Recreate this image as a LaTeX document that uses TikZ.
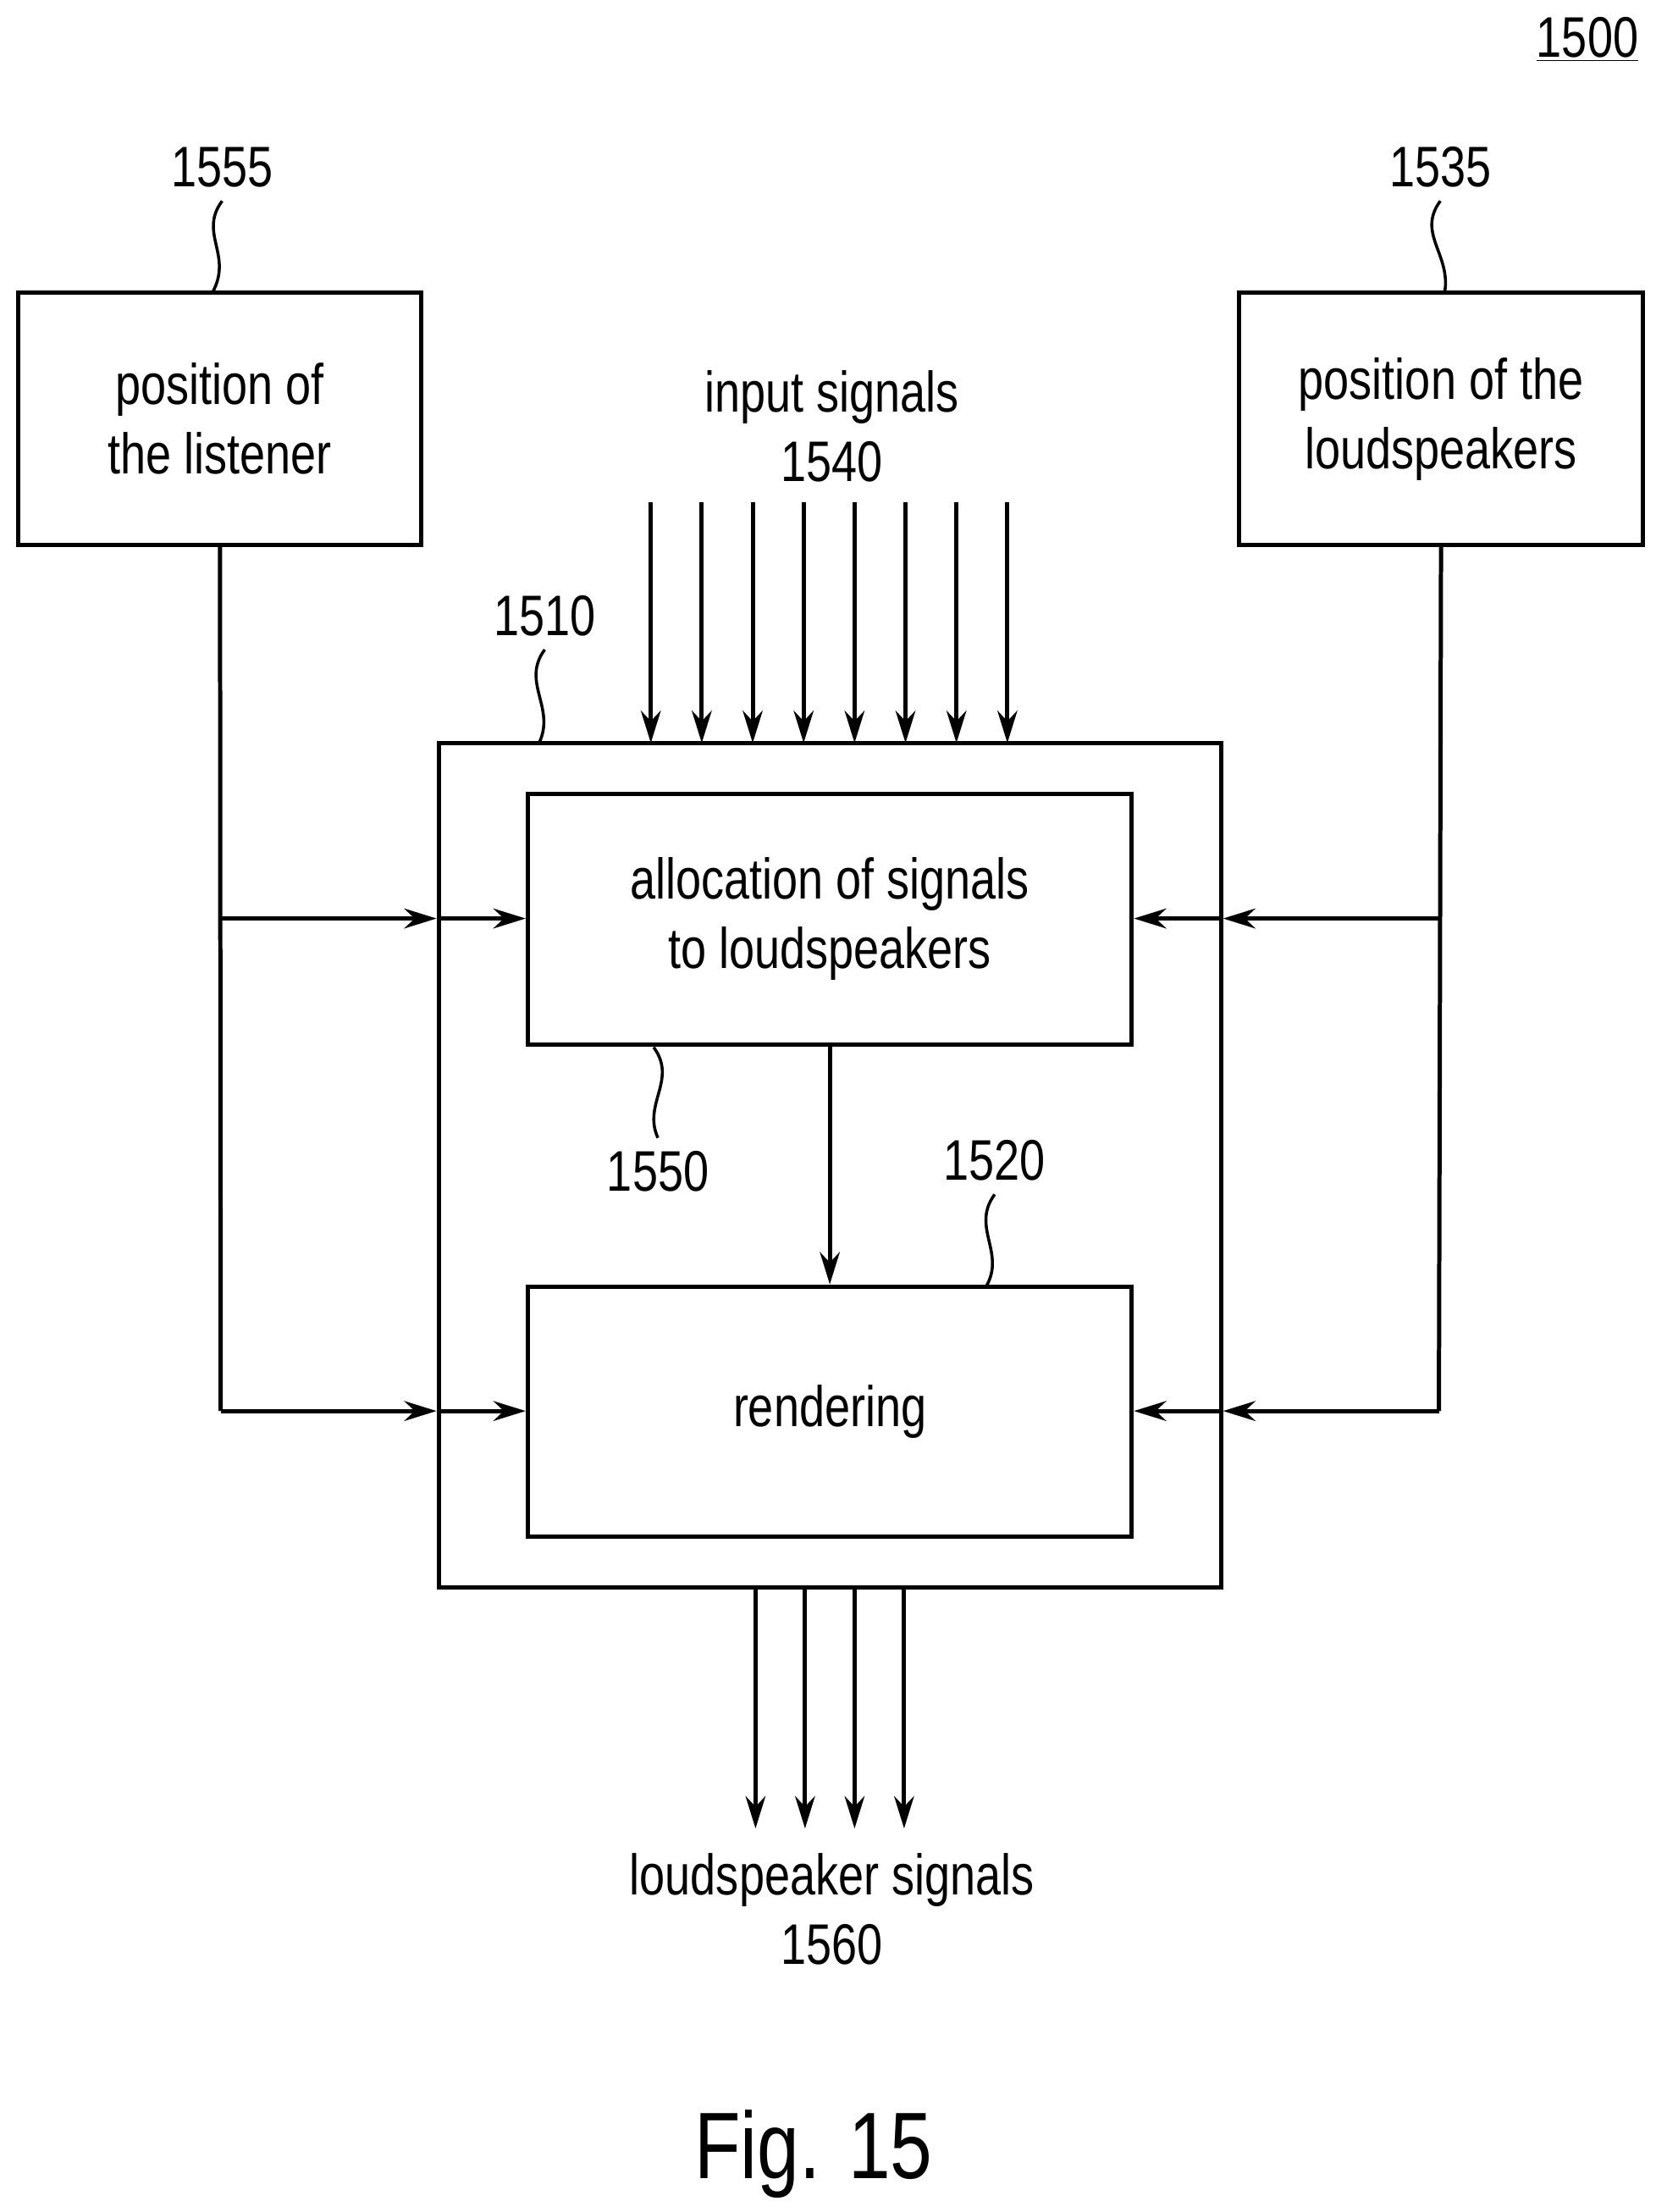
\documentclass[tikz,border=0pt]{standalone}
\usepackage{fontspec}
\setmainfont{Liberation Sans}[FakeStretch=0.8]
\usetikzlibrary{positioning,arrows.meta,calc}
\tikzset{
  blk/.style={draw, line width=1.7pt, align=center, inner sep=0pt},
  sig/.style={-{Stealth[length=13pt,width=8pt]}, line width=1.7pt},
  wire/.style={line width=1.7pt},
  lbl/.style={font=\fontsize{23}{28}\selectfont, align=center},
  squig/.style={line width=1.2pt}
}
\begin{document}
\begin{tikzpicture}[x=0.02cm, y=-0.02cm, font=\fontsize{23}{28}\selectfont]
  \useasboundingbox (0,0) rectangle (1170,1563);

  % blocs
  \node[blk, minimum width=5.7cm, minimum height=3.56cm] (listener) at (155.5,296) {position of\\the listener};
  \node[blk, minimum width=5.7cm, minimum height=3.56cm] (spkpos) at (1018.5,296) {position of the\\loudspeakers};
  \node[blk, minimum width=11.06cm, minimum height=11.94cm] (proc) at (586.5,823.5) {};
  \node[blk, minimum width=8.54cm, minimum height=3.54cm] (alloc) at (586.5,649.5) {allocation of signals\\to loudspeakers};
  \node[blk, minimum width=8.54cm, minimum height=3.54cm] (render) at (586.5,997.5) {rendering};

  % entrees / sorties
  \node[lbl] (insig) at (588,301) {input signals\\1540};
  \foreach \x in {460,496,532,568,604,640,676,712}
    \draw[sig] (\x,355) -- (\x,525);
  \node[lbl] (outsig) at (588,1349) {loudspeaker signals\\1560};
  \foreach \x in {534,569,604,639}
    \draw[sig] (\x,1122) -- (\x,1292);

  \draw[sig] (alloc.south) -- (render.north);

  % lignes gauche
  \coordinate (lj1) at (156,649);
  \coordinate (lj2) at (156,997);
  \draw[wire] (listener.south) -- (lj2);
  \draw[sig] (lj1) -- (proc.west |- lj1);
  \draw[sig] (proc.west |- lj1) -- (alloc.west |- lj1);
  \draw[sig] (lj2) -- (proc.west |- lj2);
  \draw[sig] (proc.west |- lj2) -- (render.west |- lj2);

  % lignes droite
  \coordinate (rj1) at (1017,649);
  \coordinate (rj2) at (1017,997);
  \draw[wire] (spkpos.south) -- (rj2);
  \draw[sig] (rj1) -- (proc.east |- rj1);
  \draw[sig] (proc.east |- rj1) -- (alloc.east |- rj1);
  \draw[sig] (rj2) -- (proc.east |- rj2);
  \draw[sig] (proc.east |- rj2) -- (render.east |- rj2);

  % references
  \node[lbl] (r1555) at (157,118) {1555};
  \draw[squig] (157,142) .. controls (140,165) and (165,180) .. (150,207);
  \node[lbl] (r1535) at (1018,118) {1535};
  \draw[squig] (1018,142) .. controls (1001,165) and (1026,180) .. (1021,207);
  \node[lbl] (r1510) at (385,435) {1510};
  \draw[squig] (385,459) .. controls (368,482) and (393,500) .. (381,525);
  \node[lbl] (r1550) at (465,828) {1550};
  \draw[squig] (462,740) .. controls (479,763) and (454,780) .. (465,804);
  \node[lbl] (r1520) at (703,820) {1520};
  \draw[squig] (703,844) .. controls (686,867) and (711,885) .. (697,909);
  \node[lbl] (r1500) at (1122,28) {\underline{1500}};

  \node[font=\fontsize{38}{42}\selectfont] (fig) at (575,1522) {Fig. 15};
\end{tikzpicture}
\end{document}
